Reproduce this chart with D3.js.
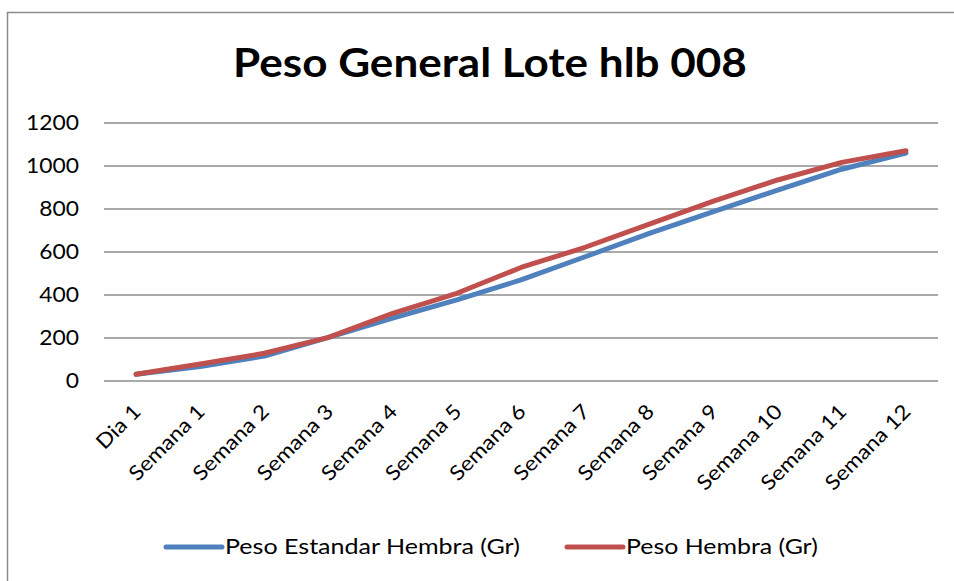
<!DOCTYPE html>
<html>
<head>
<meta charset="utf-8">
<script src="https://cdn.jsdelivr.net/npm/d3@7"></script>
<style>
  body { margin: 0; background: #fff; }
  svg { display: block; font-family: Lato, "Open Sans", sans-serif; }
</style>
</head>
<body>
<svg width="954" height="581"></svg>
<script>
var categories = ["Dia 1", "Semana 1", "Semana 2", "Semana 3", "Semana 4", "Semana 5", "Semana 6",
    "Semana 7", "Semana 8", "Semana 9", "Semana 10", "Semana 11", "Semana 12"];
var pesoEstandar = [31, 67, 116, 203, 292, 377, 470, 578, 687, 788, 888, 985, 1060];
var pesoHembra = [31, 79, 129, 203, 315, 408, 528, 622, 730, 837, 935, 1017, 1071];
var yTicks = [0, 200, 400, 600, 800, 1000, 1200];
var seriesNames = ["Peso Estandar Hembra (Gr)", "Peso Hembra (Gr)"];
var colors = ["#4f81bd", "#c0504d"];

var svg = d3.select("svg"),
    width = +svg.attr("width"),
    height = +svg.attr("height");

svg.append("rect")
    .attr("x", 7.5).attr("y", 12.5)
    .attr("width", 980).attr("height", 620)
    .attr("fill", "#fff")
    .attr("stroke", "#8c8c8c")
    .attr("stroke-width", 1.5);

var x = d3.scaleBand()
    .domain(categories)
    .range([104, 938]);

var y = d3.scaleLinear()
    .domain([0, 1200])
    .range([381, 123]);

function cx(c) { return x(c) + x.bandwidth() / 2; }

// squeeze text horizontally to the width measured on the picture
function fit(t, target) {
    var w = t.node().getComputedTextLength();
    return target / w;
}

// title
var title = svg.append("text")
    .attr("text-anchor", "middle")
    .attr("font-weight", "bold")
    .attr("font-size", 41)
    .attr("fill", "#000")
    .text("Peso General Lote hlb 008");
var kt = fit(title, 514);
title.attr("transform", "translate(490,77) scale(" + kt + ",1)");

// gridlines
svg.append("g")
    .selectAll("line")
    .data(yTicks)
    .join("line")
    .attr("x1", 104).attr("x2", 938)
    .attr("y1", d => y(d)).attr("y2", d => y(d))
    .attr("stroke", "#8c8c8c")
    .attr("stroke-width", 1.4);

// y labels
var gy = svg.append("g");
var probe = gy.append("text").attr("font-size", 20.5).text("1200");
var k = fit(probe, 53);
probe.remove();

gy.selectAll("text")
    .data(yTicks)
    .join("text")
    .attr("text-anchor", "end")
    .attr("font-size", 20.5)
    .attr("dy", "0.36em")
    .attr("fill", "#000")
    .attr("transform", d => "translate(79," + y(d) + ") scale(" + k + ",1)")
    .text(d => d);

// x labels
svg.append("g")
    .selectAll("text")
    .data(categories)
    .join("text")
    .attr("text-anchor", "end")
    .attr("font-size", 20.5)
    .attr("fill", "#000")
    .attr("transform", d => "translate(" + (cx(d) + 6) + ",413) rotate(-45) scale(" + k + ",1)")
    .text(d => d);

// lines
var line = d3.line()
    .x((d, i) => cx(categories[i]))
    .y(d => y(d));

[pesoEstandar, pesoHembra].forEach((s, i) => {
    svg.append("path")
        .attr("d", line(s))
        .attr("fill", "none")
        .attr("stroke", colors[i])
        .attr("stroke-width", 5)
        .attr("stroke-linejoin", "round")
        .attr("stroke-linecap", "round");
});

// legend
var legend = [
    {x1: 166, x2: 222, tx: 225, w: 295},
    {x1: 567, x2: 623, tx: 626, w: 192}
];
legend.forEach((l, i) => {
    svg.append("line")
        .attr("x1", l.x1).attr("x2", l.x2)
        .attr("y1", 547).attr("y2", 547)
        .attr("stroke", colors[i])
        .attr("stroke-width", 5)
        .attr("stroke-linecap", "round");
    var t = svg.append("text")
        .attr("font-size", 20.5)
        .attr("fill", "#000")
        .text(seriesNames[i]);
    var kl = fit(t, l.w);
    t.attr("transform", "translate(" + l.tx + ",554) scale(" + kl + ",1)");
});
</script>
</body>
</html>
